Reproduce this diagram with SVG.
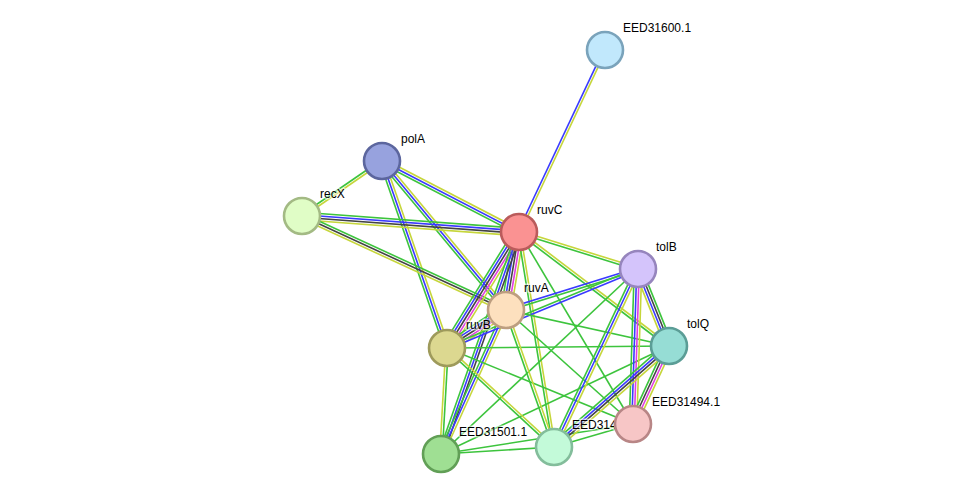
<svg xmlns="http://www.w3.org/2000/svg" width="975" height="499" viewBox="0 0 975 499">
<style>
#edges line{stroke-width:1.6;fill:none}
.g{stroke:#3dc43d}.b{stroke:#3a3aff}.k{stroke:#444}.m{stroke:#e03ee0}.y{stroke:#c6d63b}
circle{stroke-width:2.6}
text{font-family:"Liberation Sans",Arial,sans-serif;font-size:12px;fill:#000;stroke:#fff;stroke-width:3;stroke-opacity:0.55;paint-order:stroke;stroke-linejoin:round}
</style>
<rect width="975" height="499" fill="#fff"/>
<g transform="translate(1,1)">
<g id="edges">
<!-- ruvC-EED31600.1 -->
<line class="b" x1="516.9" y1="230.5" x2="602.9" y2="48.2"/>
<line class="y" x1="519.1" y1="231.5" x2="605.1" y2="49.2"/>
<!-- polA-ruvC -->
<line class="y" x1="382.15" y1="157.78" x2="519.15" y2="228.78"/>
<line class="b" x1="381" y1="160" x2="518" y2="231"/>
<line class="g" x1="379.85" y1="162.22" x2="516.85" y2="233.22"/>
<!-- polA-recX -->
<line class="g" x1="380.29" y1="158.97" x2="300.29" y2="213.97"/>
<line class="y" x1="381.71" y1="161.03" x2="301.71" y2="216.03"/>
<!-- polA-ruvA -->
<line class="y" x1="382.92" y1="158.4" x2="506.92" y2="307.4"/>
<line class="b" x1="381" y1="160" x2="505" y2="309"/>
<line class="g" x1="379.08" y1="161.6" x2="503.08" y2="310.6"/>
<!-- polA-ruvB -->
<line class="y" x1="383.36" y1="159.18" x2="448.36" y2="346.18"/>
<line class="b" x1="381" y1="160" x2="446" y2="347"/>
<line class="g" x1="378.64" y1="160.82" x2="443.64" y2="347.82"/>
<!-- recX-ruvC -->
<line class="g" x1="301.28" y1="211.26" x2="518.28" y2="227.26"/>
<line class="b" x1="301.09" y1="213.75" x2="518.09" y2="229.75"/>
<line class="k" x1="300.91" y1="216.25" x2="517.91" y2="232.25"/>
<line class="y" x1="300.72" y1="218.74" x2="517.72" y2="234.74"/>
<!-- recX-ruvA -->
<line class="g" x1="302.05" y1="212.73" x2="506.05" y2="306.73"/>
<line class="k" x1="301" y1="215" x2="505" y2="309"/>
<line class="y" x1="299.95" y1="217.27" x2="503.95" y2="311.27"/>
<!-- ruvC-ruvA -->
<line class="g" x1="513.07" y1="230.18" x2="500.07" y2="308.18"/>
<line class="b" x1="515.53" y1="230.59" x2="502.53" y2="308.59"/>
<line class="k" x1="518" y1="231" x2="505" y2="309"/>
<line class="m" x1="520.47" y1="231.41" x2="507.47" y2="309.41"/>
<line class="y" x1="522.93" y1="231.82" x2="509.93" y2="309.82"/>
<!-- ruvC-ruvB -->
<line class="g" x1="513.75" y1="228.36" x2="441.75" y2="344.36"/>
<line class="b" x1="515.88" y1="229.68" x2="443.88" y2="345.68"/>
<line class="k" x1="518" y1="231" x2="446" y2="347"/>
<line class="m" x1="520.12" y1="232.32" x2="448.12" y2="348.32"/>
<line class="y" x1="522.25" y1="233.64" x2="450.25" y2="349.64"/>
<!-- ruvC-EED31501.1 -->
<line class="g" x1="515.64" y1="230.17" x2="437.64" y2="452.17"/>
<line class="b" x1="518" y1="231" x2="440" y2="453"/>
<line class="k" x1="520.36" y1="231.83" x2="442.36" y2="453.83"/>
<!-- ruvA-EED31501.1 -->
<line class="g" x1="502.72" y1="307.97" x2="437.72" y2="451.97"/>
<line class="b" x1="505" y1="309" x2="440" y2="453"/>
<line class="y" x1="507.28" y1="310.03" x2="442.28" y2="454.03"/>
<!-- ruvA-ruvB -->
<line class="g" x1="502.29" y1="304.8" x2="443.29" y2="342.8"/>
<line class="b" x1="503.65" y1="306.9" x2="444.65" y2="344.9"/>
<line class="k" x1="505" y1="309" x2="446" y2="347"/>
<line class="m" x1="506.35" y1="311.1" x2="447.35" y2="349.1"/>
<line class="y" x1="507.71" y1="313.2" x2="448.71" y2="351.2"/>
<!-- ruvB-EED31501.1 -->
<line class="y" x1="444.75" y1="346.93" x2="438.75" y2="452.93"/>
<line class="g" x1="447.25" y1="347.07" x2="441.25" y2="453.07"/>
<!-- ruvC-tolB -->
<line class="y" x1="518.37" y1="229.81" x2="637.37" y2="266.81"/>
<line class="g" x1="517.63" y1="232.19" x2="636.63" y2="269.19"/>
<!-- ruvC-tolQ -->
<line class="y" x1="518.76" y1="230" x2="668.76" y2="344"/>
<line class="g" x1="517.24" y1="232" x2="667.24" y2="346"/>
<!-- ruvC-EED31494.1 -->
<line class="g" x1="518" y1="231" x2="632" y2="423"/>
<!-- ruvC-EED314 -->
<line class="y" x1="519.23" y1="230.8" x2="554.23" y2="445.8"/>
<line class="g" x1="516.77" y1="231.2" x2="551.77" y2="446.2"/>
<!-- ruvA-tolB -->
<line class="b" x1="504.63" y1="307.81" x2="636.63" y2="266.81"/>
<line class="g" x1="505.37" y1="310.19" x2="637.37" y2="269.19"/>
<!-- ruvB-tolB -->
<line class="g" x1="445.52" y1="345.84" x2="636.52" y2="266.84"/>
<line class="b" x1="446.48" y1="348.16" x2="637.48" y2="269.16"/>
<!-- single green edges -->
<line class="g" x1="505" y1="309" x2="668" y2="345"/>
<line class="g" x1="446" y1="347" x2="668" y2="345"/>
<line class="g" x1="505" y1="309" x2="632" y2="423"/>
<line class="g" x1="446" y1="347" x2="632" y2="423"/>
<line class="g" x1="637" y1="268" x2="440" y2="453"/>
<line class="g" x1="668" y1="345" x2="440" y2="453"/>
<line class="g" x1="440" y1="453" x2="553" y2="446"/>
<line class="g" x1="440" y1="453" x2="632" y2="423"/>
<line class="g" x1="553" y1="446" x2="632" y2="423"/>
<!-- ruvA-EED314 -->
<line class="y" x1="506.18" y1="308.59" x2="554.18" y2="445.59"/>
<line class="g" x1="503.82" y1="309.41" x2="551.82" y2="446.41"/>
<!-- ruvB-EED314 -->
<line class="y" x1="446.85" y1="346.08" x2="553.85" y2="445.08"/>
<line class="g" x1="445.15" y1="347.92" x2="552.15" y2="446.92"/>
<!-- tolB-tolQ -->
<line class="y" x1="633.52" y1="269.4" x2="664.52" y2="346.4"/>
<line class="b" x1="635.84" y1="268.47" x2="666.84" y2="345.47"/>
<line class="k" x1="638.16" y1="267.53" x2="669.16" y2="344.53"/>
<line class="g" x1="640.48" y1="266.6" x2="671.48" y2="343.6"/>
<!-- tolB-EED31494.1 -->
<line class="g" x1="633.25" y1="267.88" x2="628.25" y2="422.88"/>
<line class="b" x1="635.75" y1="267.96" x2="630.75" y2="422.96"/>
<line class="m" x1="638.25" y1="268.04" x2="633.25" y2="423.04"/>
<line class="y" x1="640.75" y1="268.12" x2="635.75" y2="423.12"/>
<!-- tolB-EED314 -->
<line class="g" x1="634.74" y1="266.93" x2="550.74" y2="444.93"/>
<line class="b" x1="637" y1="268" x2="553" y2="446"/>
<line class="y" x1="639.26" y1="269.07" x2="555.26" y2="447.07"/>
<!-- tolQ-EED31494.1 -->
<line class="g" x1="664.59" y1="343.43" x2="628.59" y2="421.43"/>
<line class="k" x1="666.86" y1="344.48" x2="630.86" y2="422.48"/>
<line class="m" x1="669.14" y1="345.52" x2="633.14" y2="423.52"/>
<line class="y" x1="671.41" y1="346.57" x2="635.41" y2="424.57"/>
<!-- tolQ-EED314 -->
<line class="g" x1="665.52" y1="342.18" x2="550.52" y2="443.18"/>
<line class="b" x1="667.17" y1="344.06" x2="552.17" y2="445.06"/>
<line class="k" x1="668.83" y1="345.94" x2="553.83" y2="446.94"/>
<line class="y" x1="670.48" y1="347.82" x2="555.48" y2="448.82"/>
</g>
<g id="EED31600.1"><circle cx="604" cy="49" r="18" fill="#c1e8fc" stroke="#7aa3bb"/><text x="622" y="31">EED31600.1</text></g>
<g id="polA"><circle cx="381" cy="160" r="18" fill="#97a2de" stroke="#5c669e"/><text x="400" y="142">polA</text></g>
<g id="recX"><circle cx="301" cy="215" r="18" fill="#e0fdc6" stroke="#a3ba84"/><text x="319" y="197">recX</text></g>
<g id="ruvC"><circle cx="518" cy="231" r="18" fill="#fa9292" stroke="#ba5b5b"/><text x="536" y="213">ruvC</text></g>
<g id="tolB"><circle cx="637" cy="268" r="18" fill="#d4c4fb" stroke="#9685bd"/><text x="655" y="250">tolB</text></g>
<g id="ruvA"><circle cx="505" cy="309" r="18" fill="#fde0be" stroke="#bd9e80"/><text x="523" y="291">ruvA</text></g>
<g id="ruvB"><circle cx="446" cy="347" r="18" fill="#dcd890" stroke="#9e9a5b"/><text x="465" y="328">ruvB</text></g>
<g id="tolQ"><circle cx="668" cy="345" r="18" fill="#96ddd5" stroke="#5b9d96"/><text x="686" y="327">tolQ</text></g>
<g id="EED31501.1"><circle cx="440" cy="453" r="18" fill="#9fdf93" stroke="#619f56"/><text x="458" y="435">EED31501.1</text></g>
<g id="EED314"><circle cx="553" cy="446" r="18" fill="#c3fad9" stroke="#83bd9b"/><text x="571" y="428">EED314</text></g>
<g id="EED31494.1"><circle cx="632" cy="423" r="18" fill="#f7c6c6" stroke="#b88686"/><text x="651" y="405">EED31494.1</text></g>
</g>
</svg>
